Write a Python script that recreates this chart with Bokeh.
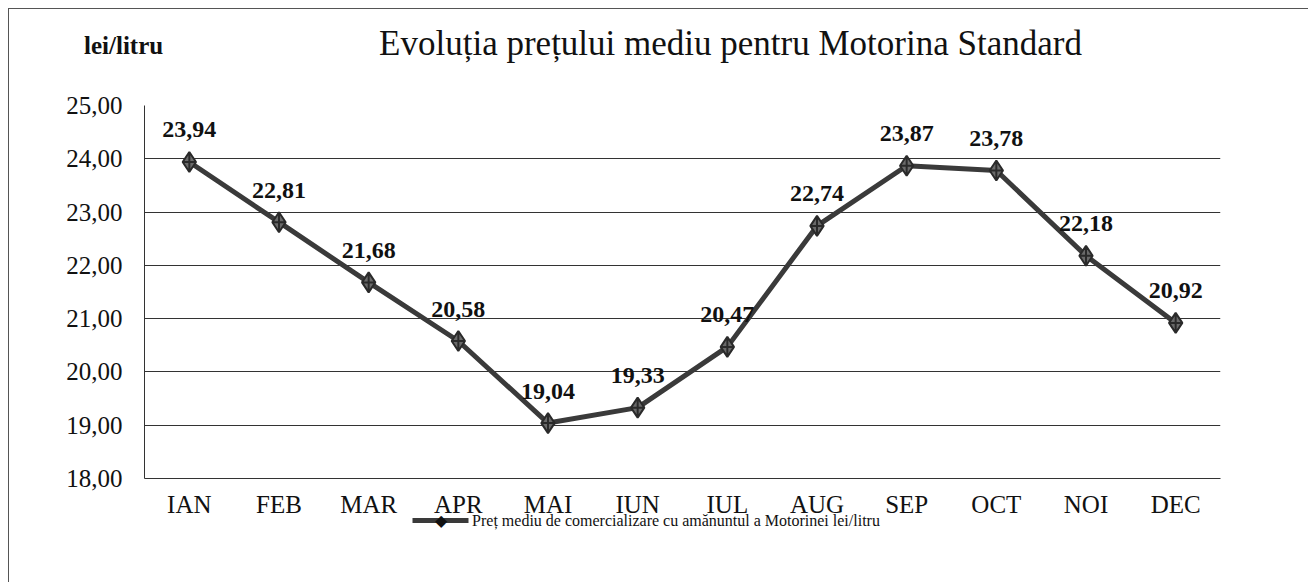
from bokeh.plotting import figure
from bokeh.models import (Range1d, FixedTicker, LinearAxis, ColumnDataSource)
from bokeh.core.properties import value
from bokeh.embed import file_html
from bokeh.resources import INLINE

months = ["IAN", "FEB", "MAR", "APR", "MAI", "IUN", "IUL", "AUG", "SEP", "OCT", "NOI", "DEC"]
prices = [23.94, 22.81, 21.68, 20.58, 19.04, 19.33, 20.47, 22.74, 23.87, 23.78, 22.18, 20.92]
y_ticks = [18, 19, 20, 21, 22, 23, 24, 25]
y_tick_labels = ["18,00", "19,00", "20,00", "21,00", "22,00", "23,00", "24,00", "25,00"]
title_text = "Evoluția prețului mediu pentru Motorina Standard"
unit_text = "lei/litru"
series_name = "Preț mediu de comercializare cu amănuntul a Motorinei lei/litru"

FONT = "Liberation Serif"
INK = "#111111"
LINE = "#3a3a3a"
FRAME_W = 1076
NBSP = "\u00a0"

# category slots: month i is centred in slot [i, i+1]
xs = [i + 0.5 for i in range(len(months))]

p = figure(x_range=Range1d(0, len(months)), y_range=Range1d(18, 25),
           width=1300, height=574, output_backend="svg", toolbar_location=None,
           min_border_left=135, min_border_right=89, min_border_top=96, min_border_bottom=105)
p.styles = {"margin-left": "8px", "margin-top": "8px",
            "border-left": "1px solid #555", "border-top": "1px solid #555"}
p.outline_line_color = None
p.background_fill_color = "white"
p.border_fill_color = "white"
p.extra_x_ranges = {"px": Range1d(0, FRAME_W)}

# main axes
p.yaxis.ticker = FixedTicker(ticks=y_ticks)
p.yaxis.major_label_overrides = {t: l for t, l in zip(y_ticks, y_tick_labels)}
p.yaxis.major_label_text_font = FONT
p.yaxis.major_label_text_font_size = "25px"
p.yaxis.major_label_text_color = INK
p.yaxis.major_label_standoff = 22
p.yaxis.major_tick_line_color = None
p.yaxis.major_tick_out = 0
p.yaxis.minor_tick_line_color = None
p.yaxis.axis_line_color = "#333333"

p.xaxis.ticker = FixedTicker(ticks=xs)
p.xaxis.major_label_overrides = {x: m for x, m in zip(xs, months)}
p.xaxis.major_label_text_font = FONT
p.xaxis.major_label_text_font_size = "25px"
p.xaxis.major_label_text_color = INK
p.xaxis.major_label_standoff = 12
p.xaxis.major_tick_line_color = None
p.xaxis.major_tick_out = 0
p.xaxis.minor_tick_line_color = None
p.xaxis.axis_line_color = "#333333"

p.xgrid.grid_line_color = None
p.ygrid.ticker = FixedTicker(ticks=y_ticks)
p.ygrid.grid_line_color = "#333333"
p.ygrid.grid_line_width = 1


def text_axis(side, ticks, labels, size, style, standoff, color=INK, **kw):
    ax = LinearAxis(x_range_name="px", ticker=FixedTicker(ticks=ticks),
                    major_label_overrides=dict(zip(ticks, labels)),
                    major_tick_line_color=None,
                    minor_tick_line_color=None, major_tick_out=0, major_tick_in=0,
                    minor_tick_out=0, minor_tick_in=0,
                    major_label_standoff=standoff,
                    major_label_text_font=FONT, major_label_text_font_size=size,
                    major_label_text_font_style=style, major_label_text_color=color, **kw)
    p.add_layout(ax, side)
    return ax


# unit label (closest to frame) and chart title on the same row above the frame
text_axis("above", [1], [unit_text + NBSP * 7], "25px", "bold", 47, axis_line_color=None)
text_axis("above", [586], [title_text], "35px", "normal", -34, axis_line_color=None)

# spacer row under the month labels, then the legend row:
# sample line (axis rule), marker and series name
text_axis("below", [538], ["."], "16px", "normal", 22, axis_line_color=None,
          major_label_text_alpha=0)
text_axis("below", [296, 531.5], ["◆", series_name], "16px", "normal", -9,
          axis_line_color=LINE, axis_line_width=5, bounds=(268, 324))

src = ColumnDataSource(dict(x=xs, y=prices,
                            lab=[f"{v:.2f}".replace(".", ",") for v in prices]))

p.line("x", "y", source=src, line_color=LINE, line_width=5)
p.scatter("x", "y", source=src, marker="diamond_cross", size=20,
          fill_color="#6a6a6a", line_color="#2a2a2a", line_width=2)

p.text("x", "y", text="lab", source=src, text_font=value(FONT), text_font_size="24px",
       text_font_style="bold", text_color=INK, text_align="center",
       text_baseline="middle", y_offset=-32)

open("out.html", "w").write(file_html(p, INLINE))
